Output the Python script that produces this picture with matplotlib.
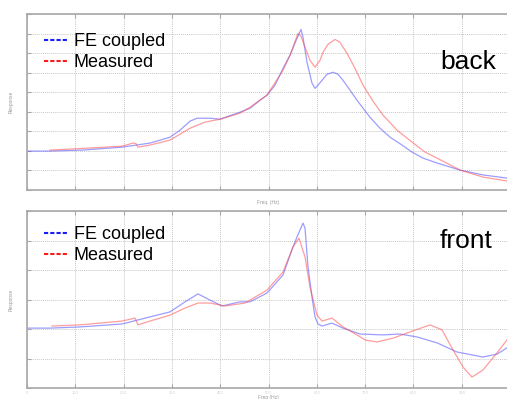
import matplotlib
matplotlib.use("Agg")
import matplotlib.pyplot as plt
from matplotlib.lines import Line2D

plt.rcParams['font.family'] = ['Liberation Sans', 'DejaVu Sans']

# ---- data (frequency in Hz, response in arbitrary units) ----
back_fe_freq = [0, 47.6, 113.9, 196.7, 254.7, 296.1, 316.8, 337.5, 352.0, 378.9, 399.6, 441.0,
                461.7, 482.4, 496.9, 513.5, 530.0, 544.5, 559.0, 567.3, 571.4, 579.7, 590.1,
                596.3, 602.5, 621.1, 633.5, 643.9, 654.2, 668.9, 683.2, 710.1, 730.9, 751.6,
                776.4, 797.1, 819.9, 848.9, 896.5, 944.1, 993.8]
back_fe_resp = [1.99, 1.99, 2.04, 2.19, 2.40, 2.70, 3.06, 3.52, 3.67, 3.67, 3.62, 3.98,
                4.18, 4.59, 4.85, 5.36, 6.22, 6.89, 7.76, 8.21, 7.81, 6.53, 5.46,
                5.20, 5.36, 5.92, 6.02, 5.92, 5.61, 5.10, 4.59, 3.72, 3.16, 2.70,
                2.30, 1.94, 1.63, 1.38, 1.02, 0.77, 0.61]

back_meas_freq = [47.6, 109.7, 196.7, 219.5, 225.7, 229.8, 254.7, 296.1, 337.5, 368.5, 399.6,
                  441.0, 461.7, 496.9, 530.0, 544.5, 561.1, 567.3, 575.6, 585.9, 596.3, 606.6,
                  612.8, 623.2, 637.7, 648.0, 662.5, 679.1, 695.7, 716.4, 737.1, 766.1, 797.1,
                  824.0, 848.9, 896.5, 944.1, 993.8]
back_meas_resp = [2.04, 2.12, 2.24, 2.40, 2.37, 2.19, 2.30, 2.55, 3.16, 3.47, 3.62,
                  3.93, 4.23, 4.85, 6.12, 6.89, 8.01, 7.86, 7.30, 6.63, 6.28, 6.63,
                  7.04, 7.45, 7.70, 7.55, 6.99, 6.22, 5.36, 4.54, 3.83, 3.06, 2.45,
                  1.94, 1.63, 1.02, 0.66, 0.46]

front_fe_freq = [0, 47.6, 109.7, 196.7, 254.7, 296.1, 327.1, 354.0, 378.9, 403.7, 441.0, 461.7,
                 496.9, 530.0, 550.7, 559.0, 571.4, 575.6, 581.8, 590.1, 596.3, 602.5, 610.8,
                 631.5, 654.2, 689.4, 737.1, 772.3, 807.5, 848.9, 890.3, 944.1, 973.1, 993.8]
front_fe_resp = [2.03, 2.03, 2.07, 2.17, 2.41, 2.58, 2.92, 3.19, 2.98, 2.78, 2.92, 2.92,
                 3.22, 3.83, 4.78, 5.12, 5.59, 5.42, 4.10, 3.08, 2.41, 2.17, 2.10,
                 2.20, 2.03, 1.83, 1.80, 1.83, 1.73, 1.53, 1.22, 1.05, 1.15, 1.36]

front_meas_freq = [51.8, 109.7, 196.7, 223.6, 229.8, 254.7, 296.1, 327.1, 354.0, 378.9, 409.9,
                   451.3, 461.7, 496.9, 530.0, 550.7, 563.1, 575.6, 585.9, 600.4, 610.8, 631.5,
                   654.2, 683.2, 699.8, 724.6, 757.8, 793.0, 834.4, 859.2, 882.0, 902.7, 921.3,
                   944.1, 973.1, 993.8]
front_meas_resp = [2.10, 2.14, 2.27, 2.37, 2.14, 2.27, 2.47, 2.71, 2.88, 2.88, 2.78,
                   2.88, 2.98, 3.32, 3.93, 4.78, 5.08, 4.44, 3.42, 2.47, 2.27, 2.37,
                   2.07, 1.80, 1.63, 1.56, 1.69, 1.90, 2.14, 1.97, 1.29, 0.71, 0.37,
                   0.61, 1.19, 1.63]

series_labels = ["FE coupled", "Measured"]
panel_titles = ["back", "front"]
x_tick_values = list(range(0, 1001, 100))

# ---- figure ----
W, H = 507, 399
fig = plt.figure(figsize=(W / 100, H / 100), dpi=100)

def px_axes(left, top, right, bottom):
    return fig.add_axes([left / W, 1 - bottom / H, (right - left) / W, (bottom - top) / H])

ax_top = px_axes(27, 14, 510, 190)
ax_bot = px_axes(27, 211, 510, 388)

spine_col = '#a8a8a8'
grid_col = '#c8c8c8'

def style(ax, ymax, show_xlabels, xlabel):
    ax.set_xlim(0, 1000)
    ax.set_ylim(0, ymax)
    ax.set_xticks(x_tick_values)
    ax.set_yticks(range(0, ymax + 1))
    ax.grid(True, color=grid_col, linestyle=(0, (1, 1)), linewidth=0.7)
    for s in ['left', 'top', 'bottom']:
        ax.spines[s].set_color(spine_col)
        ax.spines[s].set_linewidth(1.2)
    ax.spines['right'].set_visible(False)
    ax.tick_params(direction='in', length=3, color=spine_col, top=True, width=0.8)
    ax.set_yticklabels([])
    if show_xlabels:
        labels = [str(v) for v in x_tick_values[:-1]] + [""]
        ax.set_xticklabels(labels, fontsize=3, color='#d0d0d0')
        ax.tick_params(axis='x', pad=2)
    else:
        ax.set_xticklabels([])
    ax.set_ylabel("Response", fontsize=3.5, color='#999999', labelpad=6)
    ax.set_xlabel(xlabel, fontsize=3.5, color='#999999', labelpad=4 if not show_xlabels else 0)

style(ax_top, 9, False, "Freq. (Hz)")
style(ax_bot, 6, True, "Freq (Hz)")

blue = (0.3, 0.3, 1.0, 0.55)
red = (1.0, 0.3, 0.3, 0.55)

ax_top.plot(back_fe_freq, back_fe_resp, color=blue, lw=0.9)
ax_top.plot(back_meas_freq, back_meas_resp, color=red, lw=0.9)
ax_bot.plot(front_fe_freq, front_fe_resp, color=blue, lw=0.9)
ax_bot.plot(front_meas_freq, front_meas_resp, color=red, lw=0.9)

handles = [Line2D([], [], color='#1a1aff', lw=1.5, linestyle=(0, (2, 1))),
           Line2D([], [], color='#ff1a1a', lw=1.5, linestyle=(0, (2, 1)))]

legend_tops = [0.89, 0.915]
title_ys = [0.73, 0.83]
for ax, title, ly, ty in zip([ax_top, ax_bot], panel_titles, legend_tops, title_ys):
    ax.legend(handles, series_labels, loc='upper left', bbox_to_anchor=(0.035, ly),
              frameon=False, fontsize=13, handlelength=1.3, handletextpad=0.35,
              labelspacing=0.22, borderaxespad=0, borderpad=0)
    ax.text(0.855, ty, title, transform=ax.transAxes, fontsize=19, ha='left', va='center')

fig.savefig("out.png", dpi=100)
